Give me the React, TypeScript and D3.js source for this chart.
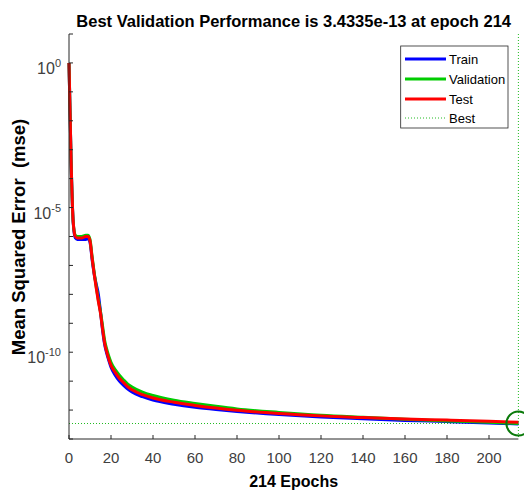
import React from "react";
import * as d3 from "d3";

const epochs = [0, 1, 2, 3, 4, 6, 8, 9, 10, 11, 12, 13, 14, 15, 16, 17, 18, 19, 20, 22, 24, 26, 28, 30, 35, 40, 50, 60, 70, 80, 100, 120, 140, 160, 180, 200, 214];

const trainMse = [1, 4e-4, 3.0e-6, 8.9e-7, 7.9e-7, 7.9e-7, 7.9e-7, 8.5e-7, 6.3e-7, 1.6e-7, 5.0e-8, 2.2e-8, 1.0e-8, 2.5e-9, 5.6e-10, 1.8e-10, 8.9e-11, 5.0e-11, 3.0e-11, 1.6e-11, 1.0e-11, 7.1e-12, 5.3e-12, 4.2e-12, 2.9e-12, 2.2e-12, 1.6e-12, 1.26e-12, 1.05e-12, 9.0e-13, 7.0e-13, 5.8e-13, 5.0e-13, 4.4e-13, 4.0e-13, 3.6e-13, 3.3e-13];

const validationMse = [1, 4e-4, 3.2e-6, 1.1e-6, 1.0e-6, 1.0e-6, 1.1e-6, 1.1e-6, 8.0e-7, 2.0e-7, 5.6e-8, 1.8e-8, 6.3e-9, 2.5e-9, 7.9e-10, 2.5e-10, 1.26e-10, 7.1e-11, 4.5e-11, 2.5e-11, 1.6e-11, 1.1e-11, 7.9e-12, 6.3e-12, 4.2e-12, 3.2e-12, 2.2e-12, 1.7e-12, 1.35e-12, 1.1e-12, 8.3e-13, 6.6e-13, 5.6e-13, 4.8e-13, 4.2e-13, 3.8e-13, 3.4335e-13];

const testMse = [1, 4e-4, 3.2e-6, 1.0e-6, 8.9e-7, 8.9e-7, 1.0e-6, 1.0e-6, 7.1e-7, 1.8e-7, 5.0e-8, 1.6e-8, 5.6e-9, 2.2e-9, 6.3e-10, 2.0e-10, 1.0e-10, 5.6e-11, 3.5e-11, 2.0e-11, 1.26e-11, 8.9e-12, 6.3e-12, 5.0e-12, 3.4e-12, 2.6e-12, 1.86e-12, 1.45e-12, 1.17e-12, 9.8e-13, 7.6e-13, 6.3e-13, 5.5e-13, 4.9e-13, 4.5e-13, 4.1e-13, 3.8e-13];

const bestEpoch = 214;
const bestValue = 3.4335e-13;

const xTicks = [0, 20, 40, 60, 80, 100, 120, 140, 160, 180, 200];
const yTickExps = [1, 0, -1, -2, -3, -4, -5, -6, -7, -8, -9, -10, -11, -12, -13];
const yLabelExps = [0, -5, -10];

const seriesNames = ["Train", "Validation", "Test"];
const seriesColors = ["#0000ff", "#00cc00", "#ff0000"];

const titleText = "Best Validation Performance is 3.4335e-13 at epoch 214";
const xLabelText = "214 Epochs";
const yLabelText = "Mean Squared Error  (mse)";

const FONT = "'Liberation Sans', Arial, Helvetica, sans-serif";
const AXIS = "#262626";
const TICKTXT = "#404040";

export default function App() {
  const W = 524, H = 494;
  const x = d3.scaleLinear().domain([0, 214]).range([69, 518.4]);
  const y = d3.scaleLog().domain([1e-13, 1e1]).range([439, 34]);
  const line = d3
    .line<number>()
    .x((_, i) => x(epochs[i]))
    .y((d) => y(d))
    .curve(d3.curveMonotoneX);
  const series = [trainMse, validationMse, testMse];
  const x0 = x(0), x1 = x(214), yTop = y(1e1), yBot = y(1e-13);
  const legX = 400.7, legY = 46, legW = 107.3, legH = 82;
  const rowY = [59, 79, 99, 118];
  return (
    <svg
      width={W}
      height={H}
      style={{ position: "absolute", left: 0, top: 0, background: "#fff" }}
      fontFamily={FONT}
    >
      <rect x={0} y={0} width={W} height={H} fill="#fff" />
      {/* best lines */}
      <line x1={x0} x2={x1} y1={y(bestValue)} y2={y(bestValue)} stroke="#22bb22" strokeWidth={1} strokeDasharray="1 2" />
      <line x1={x(bestEpoch)} x2={x(bestEpoch)} y1={yTop} y2={yBot} stroke="#22bb22" strokeWidth={1} strokeDasharray="1 2" />
      {/* data */}
      {series.map((s, i) => (
        <path key={i} d={line(s) || ""} fill="none" stroke={seriesColors[i]} strokeWidth={3} strokeLinejoin="round" />
      ))}
      <circle cx={x(bestEpoch)} cy={y(bestValue)} r={12} fill="none" stroke="#0a7a0a" strokeWidth={2} />
      {/* axes */}
      <line x1={x0} x2={x0} y1={yTop} y2={yBot} stroke={AXIS} strokeWidth={1} />
      <line x1={x0} x2={x1} y1={yBot} y2={yBot} stroke={AXIS} strokeWidth={1} />
      {xTicks.map((t) => (
        <g key={t}>
          <line x1={x(t)} x2={x(t)} y1={yBot} y2={yBot - 4} stroke={AXIS} />
          <text x={x(t)} y={463} textAnchor="middle" fontSize={15} fill={TICKTXT}>
            {t}
          </text>
        </g>
      ))}
      {yTickExps.map((e) => (
        <line key={e} x1={x0} x2={x0 + 4} y1={y(Math.pow(10, e))} y2={y(Math.pow(10, e))} stroke={AXIS} />
      ))}
      {yLabelExps.map((e) => (
        <text key={e} x={61} y={y(Math.pow(10, e)) + 11} textAnchor="end" fontSize={16} fill={TICKTXT}>
          10
          <tspan dy={-7} fontSize={11}>
            {String(e)}
          </tspan>
        </text>
      ))}
      {/* labels */}
      <text x={(x0 + x1) / 2} y={27} textAnchor="middle" fontSize={16.5} fontWeight="bold" fill="#000">
        {titleText}
      </text>
      <text x={(x0 + x1) / 2} y={487} textAnchor="middle" fontSize={16} fontWeight="bold" fill="#000">
        {xLabelText}
      </text>
      <text
        transform={`translate(25,${237}) rotate(-90)`}
        textAnchor="middle"
        fontSize={18.5}
        fontWeight="bold"
        fill="#000"
        style={{ whiteSpace: "pre" }}
      >
        {yLabelText}
      </text>
      {/* legend */}
      <rect x={legX} y={legY} width={legW} height={legH} fill="#fff" stroke={AXIS} strokeWidth={0.8} />
      {seriesNames.map((n, i) => (
        <g key={n}>
          <line x1={405} x2={446} y1={rowY[i]} y2={rowY[i]} stroke={seriesColors[i]} strokeWidth={3} />
          <text x={449} y={rowY[i] + 4.5} fontSize={13} fill="#000">
            {n}
          </text>
        </g>
      ))}
      <line x1={405} x2={446} y1={rowY[3]} y2={rowY[3]} stroke="#22bb22" strokeWidth={1} strokeDasharray="1 2" />
      <text x={449} y={rowY[3] + 4.5} fontSize={13} fill="#000">
        Best
      </text>
    </svg>
  );
}
